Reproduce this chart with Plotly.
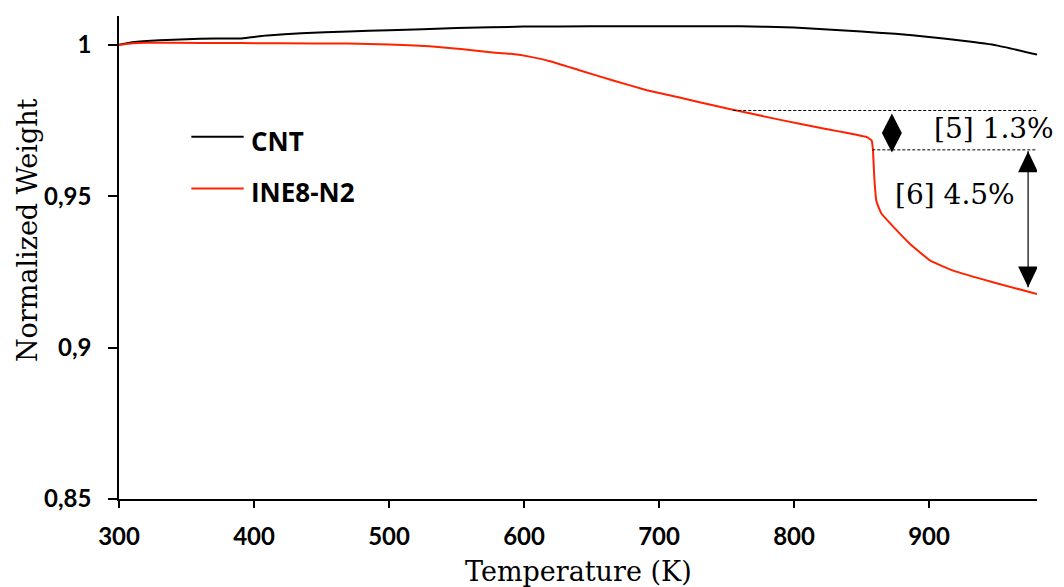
import plotly.graph_objects as go

# ---- data ----
T_cnt = [300, 310, 330, 360, 390, 398, 410, 435, 470, 500, 550, 600, 650, 700, 760,
         800, 850, 875, 900, 925, 950, 980]
W_cnt = [1.0000, 1.0008, 1.0015, 1.0020, 1.0021, 1.0025, 1.0031, 1.0038, 1.0044, 1.0048,
         1.0055, 1.0060, 1.0061, 1.0061, 1.0061, 1.0057, 1.0044, 1.0036, 1.0026, 1.0013,
         0.9998, 0.9968]

T_ine = [300, 310, 320, 360, 420, 470, 500, 530, 555, 575, 590, 605, 620, 641, 666, 691,
         716, 730, 753, 790, 820, 854, 857.5, 858.5, 859.5, 861, 863, 865, 874, 886, 901,
         918, 948, 980]
W_ine = [1.0000, 1.0005, 1.0007, 1.0006, 1.0005, 1.0004, 1.0001, 0.9995, 0.9985, 0.9975,
         0.9970, 0.9960, 0.9945, 0.9916, 0.9882, 0.9850, 0.9825, 0.9810, 0.9787, 0.9752,
         0.9725, 0.9695, 0.9684, 0.9651, 0.9560, 0.9485, 0.9460, 0.9441, 0.9397, 0.9342,
         0.9287, 0.9254, 0.9215, 0.9177]

series_names = ["CNT", "INE8-N2"]
series_colors = ["#000000", "#FF2200"]

x_ticks = [300, 400, 500, 600, 700, 800, 900]
y_ticks = [0.85, 0.9, 0.95, 1.0]
y_tick_labels = ["0,85", "0,9", "0,95", "1"]

# step annotations: levels of weight, start temperatures of guide lines
step_levels = [0.9783, 0.9653, 0.9199]
guide_start_T = [755, 858]
step_labels = ["[5] 1.3%", "[6] 4.5%"]
step_label_pos = [(948, 0.9724), (919, 0.9505)]
diamond_T = 872.5
arrow_T = 973.4

X_RANGE = [300, 980]
Y_RANGE = [0.85, 1.0095]

fig = go.Figure()
for T, W, name, col in [(T_cnt, W_cnt, series_names[0], series_colors[0]),
                        (T_ine, W_ine, series_names[1], series_colors[1])]:
    fig.add_trace(go.Scatter(x=T, y=W, mode="lines", name=name,
                             line=dict(color=col, width=2, shape="spline", smoothing=0.3),
                             showlegend=False))

shapes = []
# dashed guide lines
for lvl, t0 in zip(step_levels[:2], guide_start_T):
    shapes.append(dict(type="line", xref="x", yref="y", x0=t0, x1=X_RANGE[1], y0=lvl, y1=lvl,
                       line=dict(color="black", width=1, dash="3px,2px")))

hw = 7.4  # half width of arrow heads in K
# diamond (double arrow head) between first two levels
top_apex = step_levels[0] - 0.001
bot_apex = step_levels[1] - 0.0009
mid = (top_apex + bot_apex) / 2
shapes.append(dict(type="path", xref="x", yref="y",
                   path=f"M{diamond_T},{top_apex} L{diamond_T+hw},{mid} L{diamond_T},{bot_apex} L{diamond_T-hw},{mid} Z",
                   fillcolor="black", line=dict(color="black", width=0)))

# double arrow between level 2 and level 3
a_top = step_levels[1] - 0.0005
a_bot = step_levels[2]
head = 0.0069
shapes.append(dict(type="line", xref="x", yref="y", x0=arrow_T, x1=arrow_T, y0=a_top, y1=a_bot,
                   line=dict(color="black", width=1.2)))
shapes.append(dict(type="path", xref="x", yref="y",
                   path=f"M{arrow_T},{a_top} L{arrow_T+hw},{a_top-head} L{arrow_T-hw},{a_top-head} Z",
                   fillcolor="black", line=dict(color="black", width=0)))
shapes.append(dict(type="path", xref="x", yref="y",
                   path=f"M{arrow_T},{a_bot} L{arrow_T+hw},{a_bot+head} L{arrow_T-hw},{a_bot+head} Z",
                   fillcolor="black", line=dict(color="black", width=0)))

# manual legend (lines)
leg_x0, leg_x1 = 0.0788, 0.1358
leg_y = [0.750, 0.643]
for yy, col in zip(leg_y, series_colors):
    shapes.append(dict(type="line", xref="paper", yref="paper", x0=leg_x0, x1=leg_x1,
                       y0=yy, y1=yy, line=dict(color=col, width=2)))

annotations = []
for name, yy in zip(series_names, leg_y):
    annotations.append(dict(xref="paper", yref="paper", x=0.142, y=yy - 0.008, text=name,
                            showarrow=False, xanchor="left", yanchor="middle",
                            font=dict(family="Open Sans", size=26, color="black", weight="bold")))
for txt, (tx, ty) in zip(step_labels, step_label_pos):
    annotations.append(dict(xref="x", yref="y", x=tx, y=ty, text=txt, showarrow=False,
                            xanchor="center", yanchor="middle",
                            font=dict(family="DejaVu Serif", size=28, color="black")))
# y-axis title (placed like the reference, slightly above centre)
annotations.append(dict(xref="paper", yref="paper", x=-0.099, y=0.557,
                        text="Normalized Weight", textangle=-90, showarrow=False,
                        xanchor="center", yanchor="middle",
                        font=dict(family="DejaVu Serif", size=27, color="black")))
# x-axis title
annotations.append(dict(xref="paper", yref="paper", x=0.5, y=-0.151,
                        text="Temperature (K)", showarrow=False,
                        xanchor="center", yanchor="middle",
                        font=dict(family="DejaVu Serif", size=27, color="black")))

fig.update_layout(
    width=1064, height=587,
    margin=dict(l=119, r=27, t=16, b=88, autoexpand=False),
    paper_bgcolor="white", plot_bgcolor="white",
    shapes=shapes, annotations=annotations,
    xaxis=dict(range=X_RANGE, tickvals=x_ticks, showgrid=False, zeroline=False,
               showline=True, linecolor="black", linewidth=2, automargin=False,
               ticks="outside", ticklen=7, tickwidth=1.5, tickcolor="black",
               ticklabelstandoff=8,
               tickfont=dict(family="Lato", size=24, color="black", weight="bold")),
    yaxis=dict(range=Y_RANGE, tickvals=y_ticks, ticktext=y_tick_labels, showgrid=False,
               zeroline=False, showline=True, linecolor="black", linewidth=1.5,
               automargin=False,
               ticks="outside", ticklen=9, tickwidth=1.5, tickcolor="black",
               ticklabelstandoff=12,
               tickfont=dict(family="Lato", size=24, color="black", weight="bold")),
)

fig.write_html("out.html")
